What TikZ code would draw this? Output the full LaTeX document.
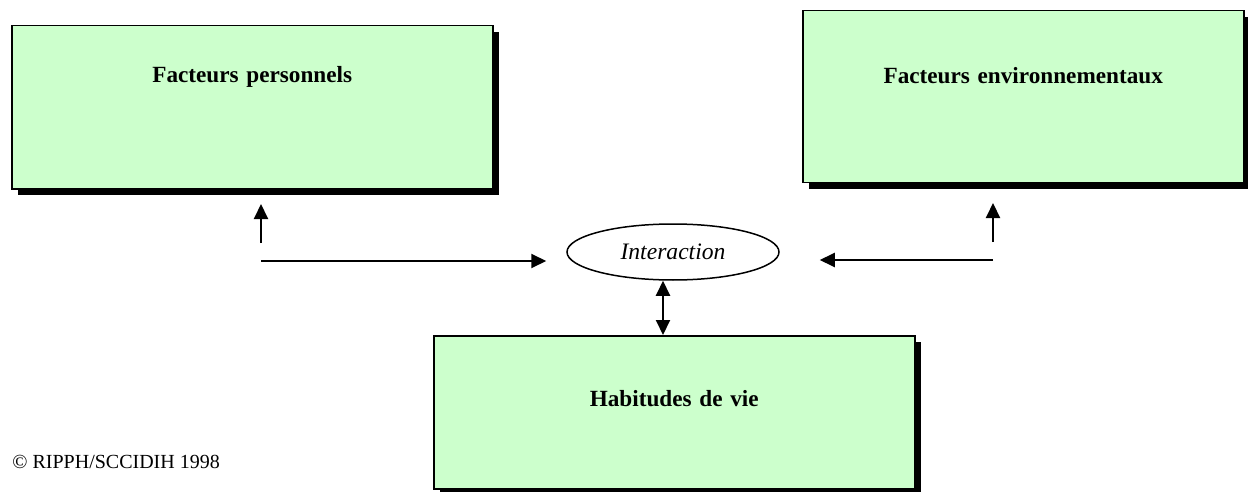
\documentclass[tikz,border=0pt]{standalone}
\usepackage{fontspec}
\setmainfont{Liberation Serif}
\usepackage{xcolor}
\usetikzlibrary{shapes.geometric,arrows.meta,shadows}
\definecolor{boxgreen}{HTML}{CCFFCC}
\tikzset{facbox/.style={draw,line width=0.75pt,fill=boxgreen,inner sep=0pt,align=center,anchor=north west,
    font=\fontsize{11.6}{14}\selectfont\bfseries,
    drop shadow={shadow xshift=3pt,shadow yshift=-3pt,fill=black,opacity=1}}}
\tikzset{facarrow/.style={line width=1pt,-{Triangle[length=7.5pt,width=7pt]}}}

\begin{document}
\begin{tikzpicture}[x=0.5pt,y=-0.5pt]
    \useasboundingbox (0,0) rectangle (1248,492);

    \node [facbox,text width=240.5pt,text height=28.5pt,text depth=53pt] (perso) at (11,25) {Facteurs personnels};
    \node [facbox,text width=220.5pt,text height=36.5pt,text depth=49.5pt] (envir) at (802,10) {Facteurs environnementaux};
    \node [facbox,text width=240.5pt,text height=35.5pt,text depth=41pt] (habit) at (433,335) {Habitudes de vie};

    \node [draw,ellipse,line width=0.75pt,minimum width=106pt,minimum height=28pt,inner sep=0pt,
        font=\fontsize{11.8}{14}\selectfont\itshape] (inter) at (673,252) {Interaction};

    \coordinate (lfoot) at (261,261);
    \coordinate (lstem) at (261,243);
    \coordinate (lhead) at (261,204);
    \coordinate (rfoot) at (993,260);
    \coordinate (rstem) at (993,242);
    \coordinate (rhead) at (993,203);

    \draw [facarrow] (lstem) -- (lhead);
    \draw [facarrow] (rstem) -- (rhead);
    \draw [facarrow] (lfoot) -- ([xshift=-10pt]inter.west |- lfoot);
    \draw [facarrow] (rfoot) -- ([xshift=20pt]inter.east |- rfoot);
    \draw [line width=1pt,{Triangle[length=7.5pt,width=7pt]}-{Triangle[length=7.5pt,width=7pt]}]
        ([xshift=-5pt]inter.south) -- ([xshift=-5pt]inter.south |- habit.north);

    \node [anchor=west,inner sep=0pt,font=\fontsize{10}{12}\selectfont] (copy) at (12,462) {© RIPPH/SCCIDIH 1998};
\end{tikzpicture}
\end{document}
